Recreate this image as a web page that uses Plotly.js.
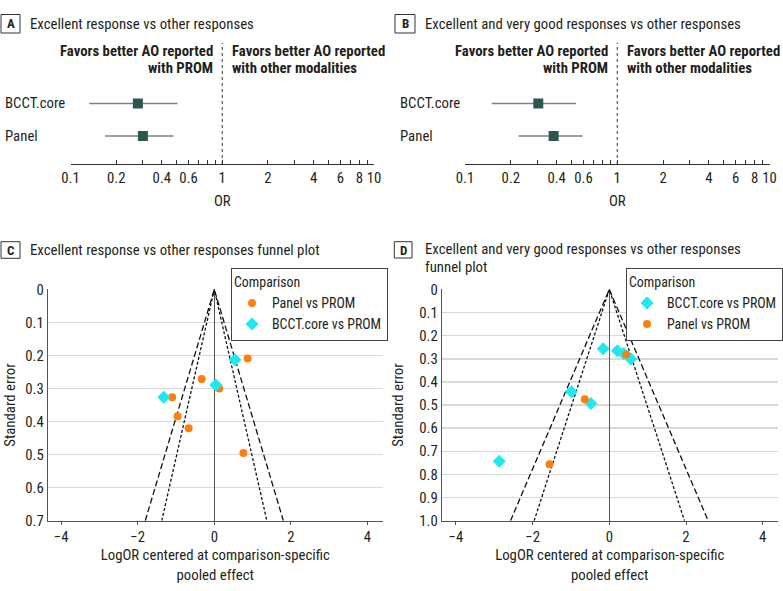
<!DOCTYPE html>
<html><head><meta charset="utf-8">
<script src="https://cdn.plot.ly/plotly-3.0.1.min.js"></script>
<style>html,body{margin:0;padding:0;background:#fff}#chart{width:783px;height:591px}</style>
</head><body><div id="chart"></div>
<script>
const W = 783, H = 591;
// ---- Forest plot data (odds ratios) ----
const forestCategories = ['BCCT.core', 'Panel'];
const orA = [0.278, 0.300];
const loA = [0.133, 0.169];
const hiA = [0.507, 0.477];
const orB = [0.303, 0.382];
const loB = [0.150, 0.225];
const hiB = [0.535, 0.593];
const orTickVals = [0.1,0.2,0.3,0.4,0.5,0.6,0.7,0.8,0.9,1,2,3,4,5,6,7,8,9,10];
const orTickText = ['0.1','0.2','','0.4','','0.6','','','','1','2','','4','','6','','8','','10'];
// ---- Funnel plot data (centered logOR, standard error) ----
const cPanelX  = [0.87, -0.33, 0.13, -1.10, -0.96, -0.67, 0.76];
const cPanelSE = [0.209, 0.271, 0.300, 0.326, 0.384, 0.420, 0.495];
const cBcctX   = [0.54, 0.04, -1.32];
const cBcctSE  = [0.213, 0.289, 0.326];
const dBcctX   = [-0.16, 0.21, 0.37, 0.56, -0.99, -0.48, -2.87];
const dBcctSE  = [0.257, 0.265, 0.277, 0.301, 0.442, 0.493, 0.743];
const dPanelX  = [0.44, -0.64, -1.56];
const dPanelSE = [0.281, 0.475, 0.756];
const seTicksC = [0, 0.1, 0.2, 0.3, 0.4, 0.5, 0.6, 0.7];
const seTextC  = ['0','0.1','0.2','0.3','0.4','0.5','0.6','0.7'];
const seTicksD = [0, 0.1, 0.2, 0.3, 0.4, 0.5, 0.6, 0.7, 0.8, 0.9, 1.0];
const seTextD  = ['0','0.1','0.2','0.3','0.4','0.5','0.6','0.7','0.8','0.9','1.0'];
const logTicks = [-4, -2, 0, 2, 4];
const seMaxC = 0.7, seMaxD = 1.0;
const z95 = 1.96, z99 = 2.576;

const FONT = '"Roboto Condensed", Roboto, sans-serif';
const TXT = '#231f20';
const FS = 14.8, LFS = 13.9;
const ORANGE = '#ff7f0e', CYAN = '#1ee8f0', SQ = '#2b5751', CIC = '#808080';
const px = v => v / W;
const py = v => 1 - v / H;

function forestTrace(or, lo, hi, xa, ya) {
  return {
    type: 'scatter', mode: 'markers', x: or, y: forestCategories, xaxis: xa, yaxis: ya,
    marker: {symbol: 'square', size: 10, color: SQ},
    error_x: {type: 'data', symmetric: false,
      array: hi.map((h, i) => h - or[i]), arrayminus: lo.map((l, i) => or[i] - l),
      width: 0, thickness: 1.5, color: CIC},
    showlegend: false, hoverinfo: 'skip'
  };
}
function funnelLines(seMax, z, dash, xa, ya) {
  return {type: 'scatter', mode: 'lines', x: [-z * seMax, 0, z * seMax], y: [seMax, 0, seMax],
    xaxis: xa, yaxis: ya, line: {color: '#111', width: 1.3, dash: dash}, showlegend: false, hoverinfo: 'skip'};
}
function pts(x, y, name, color, symbol, size, xa, ya, legend) {
  return {type: 'scatter', mode: 'markers', x: x, y: y, name: name, xaxis: xa, yaxis: ya, legend: legend,
    marker: {color: color, symbol: symbol, size: size}, hoverinfo: 'skip'};
}

const data = [
  forestTrace(orA, loA, hiA, 'x', 'y'),
  forestTrace(orB, loB, hiB, 'x2', 'y2'),
  funnelLines(seMaxC, z99, '6px,3px', 'x3', 'y3'),
  funnelLines(seMaxC, z95, '3px,2px', 'x3', 'y3'),
  funnelLines(seMaxD, z99, '6px,3px', 'x4', 'y4'),
  funnelLines(seMaxD, z95, '3px,2px', 'x4', 'y4'),
  pts(cPanelX, cPanelSE, 'Panel vs PROM', ORANGE, 'circle', 8, 'x3', 'y3', 'legend'),
  pts(cBcctX, cBcctSE, 'BCCT.core vs PROM', CYAN, 'diamond', 10, 'x3', 'y3', 'legend'),
  pts(dBcctX, dBcctSE, 'BCCT.core vs PROM', CYAN, 'diamond', 10, 'x4', 'y4', 'legend2'),
  pts(dPanelX, dPanelSE, 'Panel vs PROM', ORANGE, 'circle', 8, 'x4', 'y4', 'legend2')
];

function orAxis(d0, d1, anchor) {
  return {type: 'log', range: [-1, 1], domain: [px(d0), px(d1)], anchor: anchor,
    showline: true, linecolor: '#333', linewidth: 1, ticks: 'inside', ticklen: 4, tickcolor: '#333',
    tickvals: orTickVals, ticktext: orTickText, showgrid: false, zeroline: false,
    tickfont: {size: FS, color: TXT}, title: {text: 'OR', font: {size: FS, color: TXT}, standoff: 9}};
}
function catAxis(anchor) {
  return {type: 'category', categoryarray: forestCategories, range: [1.86, -1.86],
    domain: [py(164), py(43)], anchor: anchor, visible: false};
}
function seAxis(ticks, text, seMax, anchor, standoff) {
  return {range: [seMax, -0.0005], domain: [py(520.7), py(289.3)], anchor: anchor,
    tickvals: ticks, ticktext: text, showgrid: true, gridcolor: '#d9d9d9', gridwidth: 1.5,
    zeroline: false, showline: true, linecolor: '#555', linewidth: 1, ticks: '',
    tickfont: {size: FS, color: TXT},
    title: {text: 'Standard error', font: {size: FS, color: TXT}, standoff: standoff}};
}
function lorAxis(r, d0, d1, anchor) {
  return {range: r, domain: [px(d0), px(d1)], anchor: anchor, tickvals: logTicks,
    showgrid: false, zeroline: true, zerolinecolor: '#555', zerolinewidth: 1,
    showline: true, linecolor: '#555', linewidth: 1, ticks: 'outside', ticklen: 3, tickcolor: '#555',
    tickfont: {size: FS, color: TXT},
    title: {text: 'LogOR centered at comparison-specific<br>pooled effect', font: {size: FS, color: TXT}, standoff: 3}};
}

function box(x0, x1, y0, y1) {
  return {type: 'rect', xref: 'paper', yref: 'paper', x0: px(x0), x1: px(x1), y0: py(y1), y1: py(y0),
    line: {color: '#333', width: 1}, fillcolor: 'rgba(0,0,0,0)'};
}
function letter(t, xc, yc) {
  return {text: '<b>' + t + '</b>', xref: 'paper', yref: 'paper', x: px(xc), y: py(yc),
    xanchor: 'center', yanchor: 'middle', showarrow: false, font: {size: 13, color: TXT}};
}
function heading(t, x, y) {
  return {text: t, xref: 'paper', yref: 'paper', x: px(x), y: py(y), xanchor: 'left', yanchor: 'middle',
    align: 'left', showarrow: false, font: {size: FS, color: TXT}};
}
function favors(t, x, y, anchor) {
  return {text: '<b>' + t + '</b>', xref: 'paper', yref: 'paper', x: px(x), y: py(y),
    xanchor: anchor, yanchor: 'middle', align: anchor, showarrow: false, font: {size: FS, color: TXT}};
}
function rowLabel(t, x, ya) {
  return {text: t, xref: 'paper', yref: ya, x: px(x), y: t, xanchor: 'left', yanchor: 'middle',
    showarrow: false, font: {size: FS, color: TXT}};
}

const legendBase = {bgcolor: '#fff', bordercolor: '#444', borderwidth: 1,
  font: {size: LFS, color: TXT}, title: {text: 'Comparison', font: {size: LFS, color: TXT}},
  yanchor: 'top', tracegroupgap: 0, itemwidth: 30};

const layout = {
  width: W, height: H, margin: {l: 0, r: 0, t: 0, b: 0}, paper_bgcolor: '#fff', plot_bgcolor: 'rgba(0,0,0,0)',
  font: {family: FONT, color: TXT, size: FS},
  xaxis: orAxis(70.5, 374, 'y'), yaxis: catAxis('x'),
  xaxis2: orAxis(465, 769.5, 'y2'), yaxis2: catAxis('x2'),
  xaxis3: lorAxis([-4.35, 4.4], 47.7, 382.8, 'y3'), yaxis3: seAxis(seTicksC, seTextC, seMaxC, 'x3', 6),
  xaxis4: lorAxis([-4.37, 4.39], 441.7, 777.7, 'y4'), yaxis4: seAxis(seTicksD, seTextD, seMaxD, 'x4', 12),
  legend: Object.assign({}, legendBase, {x: px(231), xanchor: 'left', y: py(268.3)}),
  legend2: Object.assign({}, legendBase, {x: 1, xanchor: 'right', y: py(268.3)}),
  shapes: [
    {type: 'line', xref: 'x domain', yref: 'y domain', x0: 0.5, x1: 0.5, y0: 0, y1: 1, line: {color: '#333', width: 1, dash: 'dot'}},
    {type: 'line', xref: 'x2 domain', yref: 'y2 domain', x0: 0.5, x1: 0.5, y0: 0, y1: 1, line: {color: '#333', width: 1, dash: 'dot'}},
    box(1, 20, 14.5, 33), box(395, 415, 14.5, 33), box(1, 20, 241.7, 258.3), box(394.3, 412, 241.7, 258)
  ],
  annotations: [
    letter('A', 10.5, 23.8), letter('B', 405, 23.8), letter('C', 10.5, 250), letter('D', 403.2, 250),
    heading('Excellent response vs other responses', 28, 24),
    heading('Excellent and very good responses vs other responses', 422.7, 24),
    heading('Excellent response vs other responses funnel plot', 28, 250),
    heading('Excellent and very good responses vs other responses', 422.7, 249),
    heading('funnel plot', 422.7, 267),
    favors('Favors better AO reported', 215, 50.5, 'right'),
    favors('with PROM', 215, 68, 'right'),
    favors('Favors better AO reported', 230, 50.5, 'left'),
    favors('with other modalities', 230, 68, 'left'),
    favors('Favors better AO reported', 609.5, 50.5, 'right'),
    favors('with PROM', 609.5, 68, 'right'),
    favors('Favors better AO reported', 625, 50.5, 'left'),
    favors('with other modalities', 625, 68, 'left'),
    rowLabel('BCCT.core', 3, 'y'), rowLabel('Panel', 3, 'y'),
    rowLabel('BCCT.core', 398, 'y2'), rowLabel('Panel', 398, 'y2')
  ]
};
Plotly.newPlot('chart', data, layout, {displayModeBar: false, staticPlot: true});
</script></body></html>
